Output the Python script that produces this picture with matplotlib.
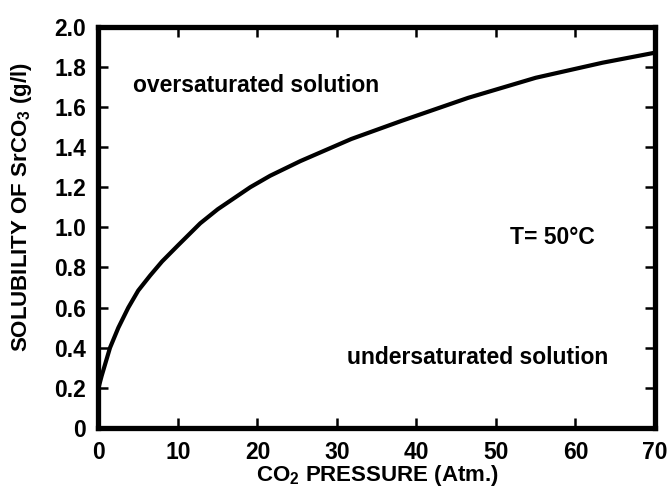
import matplotlib
matplotlib.use("Agg")
import matplotlib.pyplot as plt
from matplotlib.ticker import FixedLocator, FuncFormatter

plt.rcParams['font.family'] = ['Liberation Sans', 'DejaVu Sans']
plt.rcParams['font.weight'] = 'bold'
plt.rcParams['mathtext.fontset'] = 'custom'
plt.rcParams['mathtext.rm'] = 'Liberation Sans:bold'
plt.rcParams['mathtext.bf'] = 'Liberation Sans:bold'

pressure = [0, 0.4, 1.45, 2.5, 3.75, 5.0, 6.5, 8.0, 10, 12.8, 15, 19.1, 21.6,
            25.4, 31.8, 38.1, 46.5, 55, 63.4, 70]
solubility = [0.2, 0.26, 0.40, 0.50, 0.60, 0.685, 0.76, 0.83, 0.91, 1.02, 1.09,
              1.20, 1.257, 1.33, 1.44, 1.53, 1.645, 1.745, 1.82, 1.87]

xticks = [0, 10, 20, 30, 40, 50, 60, 70]
yticks = [0, 0.2, 0.4, 0.6, 0.8, 1.0, 1.2, 1.4, 1.6, 1.8, 2.0]

fig = plt.figure(figsize=(6.69, 4.87), dpi=100)
ax = fig.add_axes([0.1472, 0.121, 0.8318, 0.8244])
ax.plot(pressure, solubility, color='black', lw=3.0, solid_capstyle='butt',
        solid_joinstyle='round')
ax.set_xlim(0, 70)
ax.set_ylim(0, 2.0)
ax.xaxis.set_major_locator(FixedLocator(xticks))
ax.yaxis.set_major_locator(FixedLocator(yticks))
ax.yaxis.set_major_formatter(FuncFormatter(lambda v, p: '0' if v == 0 else f'{v:.1f}'))
ax.xaxis.set_major_formatter(FuncFormatter(lambda v, p: f'{int(v)}'))
for s in ax.spines.values():
    s.set_linewidth(3.8)
ax.tick_params(direction='in', length=7, width=1.8, top=True, right=True,
               labelsize=16.5, pad=9)
for lab in ax.get_xticklabels() + ax.get_yticklabels():
    lab.set_fontweight('bold')

ax.set_xlabel(r'CO$\mathregular{_2}$ PRESSURE (Atm.)', fontsize=16,
              fontweight='bold')
ax.set_ylabel(r'SOLUBILITY OF SrCO$\mathregular{_3}$ (g/l)', fontsize=16,
              fontweight='bold')
ax.xaxis.set_label_coords(0.502, -0.088)
ax.yaxis.set_label_coords(-0.115, 0.55)

ax.text(4.35, 1.705, 'oversaturated solution', fontsize=16.5, fontweight='bold',
        va='center', ha='left')
ax.text(51.8, 0.95, 'T= 50°C', fontsize=16.5, fontweight='bold', va='center', ha='left')
ax.text(31.3, 0.35, 'undersaturated solution', fontsize=16.5, fontweight='bold',
        va='center', ha='left')

fig.savefig('out.png', dpi=100, facecolor='white')
